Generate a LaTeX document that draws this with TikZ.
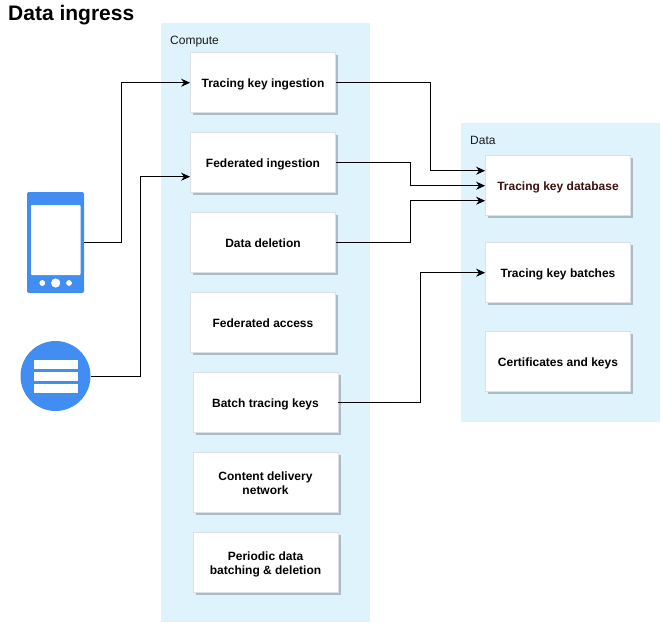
\documentclass[tikz,border=0pt]{standalone}
\usepackage{fontspec}
\setmainfont{Liberation Sans}
\usetikzlibrary{shadows,calc,arrows.meta}
\definecolor{zone}{HTML}{DFF3FD}
\definecolor{iconblue}{HTML}{418DF1}
\definecolor{boxline}{HTML}{DDE1E5}
\definecolor{shadowgrey}{HTML}{AFBBC2}
\definecolor{darkred}{HTML}{3D1010}
\tikzset{
  x=1pt,y=-1pt,
  zonebox/.style={fill=zone,draw=none,minimum width=#1,anchor=north west,inner sep=0pt},
  card/.style={draw=boxline,line width=0.8pt,fill=white,minimum width=145pt,minimum height=60pt,inner sep=0pt,
    align=center,text depth=0pt,font=\fontsize{12}{14}\selectfont\bfseries,
    drop shadow={shadow xshift=2.5pt,shadow yshift=-2.5pt,fill=shadowgrey,opacity=1}},
  zonelabel/.style={anchor=base west,inner sep=0pt,font=\fontsize{12}{14}\selectfont,text=black!90},
  link/.style={draw=black,line width=0.85pt,-{Stealth[length=9pt,width=8pt]}},
}
\begin{document}
\begin{tikzpicture}
\useasboundingbox (0,0) rectangle (661,623);
\node[anchor=base west,inner sep=0pt,font=\fontsize{21}{24}\selectfont\bfseries] (title) at (8,20.5) {Data ingress};
\node[zonebox=209pt,minimum height=599pt] (compute) at (160.7,22.7) {};
\node[zonebox=199pt,minimum height=299pt] (data) at (460.7,122.7) {};
\node[zonelabel] (computelabel) at (170,44.5) {Compute};
\node[zonelabel] (datalabel) at (470,144) {Data};
\node[card] (ingest) at (263,82.7) {Tracing key ingestion};
\node[card] (federated) at (263,162.7) {Federated ingestion};
\node[card] (deletion) at (263,242.7) {Data deletion};
\node[card] (access) at (263,322.7) {Federated access};
\node[card] (batch) at (265.5,402.7) {Batch tracing keys};
\node[card] (cdn) at (265.5,482.7) {Content delivery\\network};
\node[card] (periodic) at (265.5,562.7) {Periodic data\\batching \& deletion};
\node[card,text=darkred] (database) at (558,185.7) {Tracing key database};
\node[card] (batches) at (558,272.7) {Tracing key batches};
\node[card] (certs) at (558,361.7) {Certificates and keys};
% phone
\node[fill=iconblue,draw=none,rounded corners=2pt,minimum width=57pt,minimum height=101pt,inner sep=0pt] (phone) at (55.5,242.5) {};
\fill[white,rounded corners=0.8pt] (31,205) rectangle (80.5,275);
\fill[white] (42.3,283) circle (2.9);
\fill[white] (55.7,283) circle (4.6);
\fill[white] (69,283) circle (2.9);
% server
\node[circle,fill=iconblue,draw=none,minimum size=70pt,inner sep=0pt] (server) at (55.5,376) {};
\fill[white] (33.5,360) rectangle (77.5,369);
\fill[white] (33.5,372) rectangle (77.5,381);
\fill[white] (33.5,384) rectangle (77.5,393);
% connectors
\draw[link] (phone.east) -- ++(37,0) |- (ingest.west);
\draw[link] (server.east) -- ++(50,0) |- ($(federated.west)+(0,14)$);
\draw[link] (ingest.east) -- ++(95,0) |- ($(database.west)+(0,-15)$);
\draw[link] (federated.east) -- ++(75,0) |- (database.west);
\draw[link] (deletion.east) -- ++(75,0) |- ($(database.west)+(0,15)$);
\draw[link] (batch.east) -- ++(82,0) |- (batches.west);
\end{tikzpicture}
\end{document}
